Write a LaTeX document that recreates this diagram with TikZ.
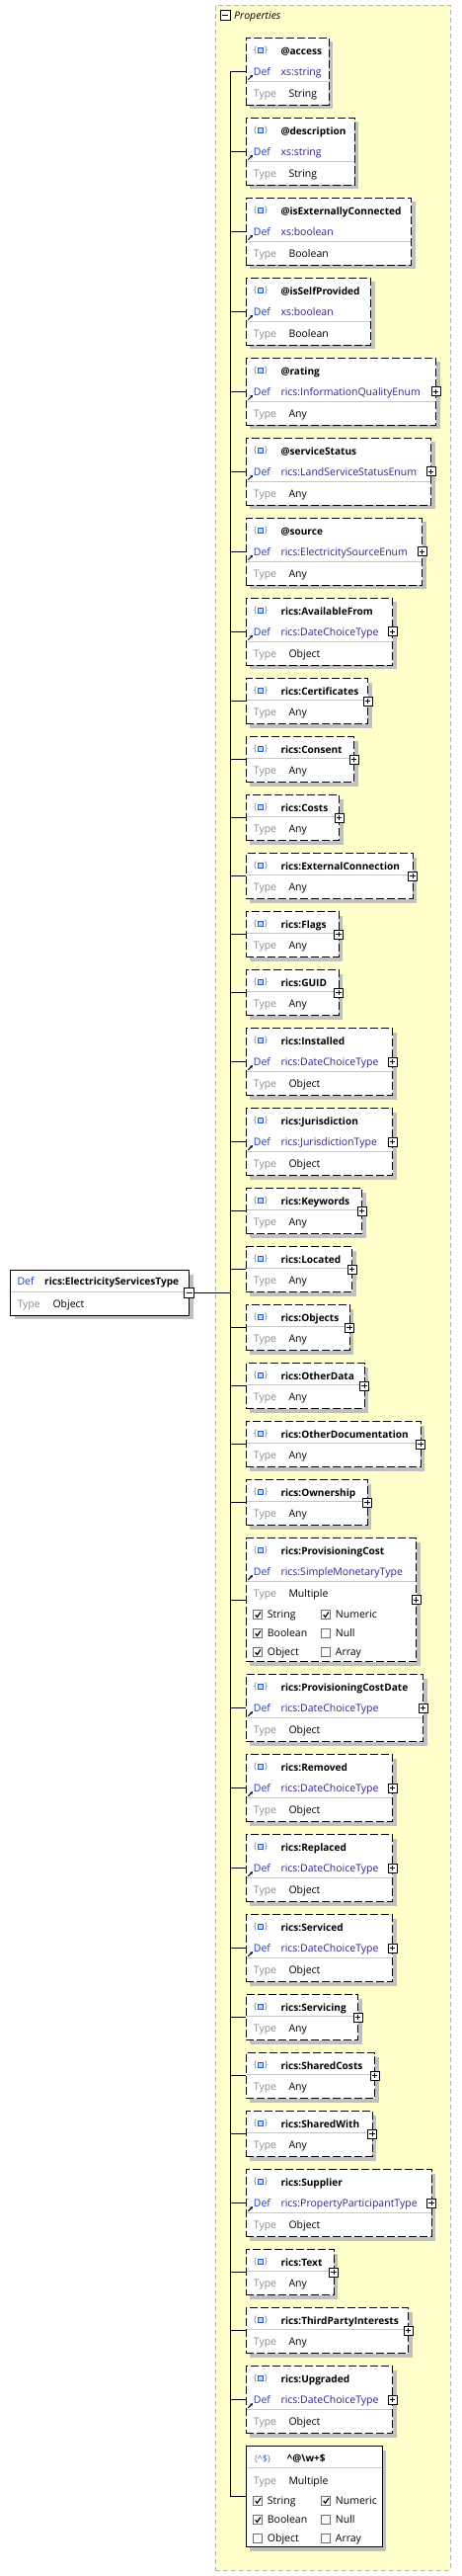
\documentclass[tikz,border=0pt]{standalone}
\usepackage{fontspec}
\setmainfont{Open Sans}
\usetikzlibrary{calc,arrows.meta}
\definecolor{bgyellow}{HTML}{FFFFCC}
\definecolor{shadowgray}{HTML}{C0C0C0}
\definecolor{sepgray}{HTML}{C8C8C8}
\definecolor{containerborder}{HTML}{B4B4B4}
\definecolor{defblue}{HTML}{1A3CC8}
\definecolor{defval}{HTML}{3C1E8C}
\definecolor{typegray}{HTML}{8C8C8C}
\definecolor{iconblue}{HTML}{2060E0}
\definecolor{iconfill}{HTML}{B8D4FF}
\definecolor{bracegray}{HTML}{808080}
\definecolor{cbgray}{HTML}{707070}
\newcommand{\fs}{\fontsize{10.5}{12}\selectfont}
\newcommand{\fb}{\fontsize{10.1}{12}\selectfont\bfseries}
\tikzset{
  elbox/.style={draw=black, line width=0.9pt, dash pattern=on 8pt off 3pt, fill=white, inner sep=0pt, outer sep=0pt, anchor=north west},
  solidbox/.style={draw=black, line width=0.9pt, fill=white, inner sep=0pt, outer sep=0pt, anchor=north west},
  sepline/.style={draw=sepgray, line width=0.8pt},
  lbl/.style={anchor=base west, inner sep=0pt, font=\fs},
  ttl/.style={anchor=base west, inner sep=0pt, font=\fb},
  bracefont/.style={inner sep=0pt, font=\fontsize{9}{10}\selectfont, text=bracegray},
  treeline/.style={draw=black, line width=1pt},
  plusbox/.style={draw=black, fill=white, minimum size=9pt, inner sep=0pt, line width=0.7pt,
    path picture={\draw[line width=0.7pt] ([xshift=1.8pt]path picture bounding box.west) -- ([xshift=-1.8pt]path picture bounding box.east);
                  \draw[line width=0.7pt] ([yshift=-1.8pt]path picture bounding box.north) -- ([yshift=1.8pt]path picture bounding box.south);}},
  minusbox/.style={draw=black, fill=white, minimum size=10pt, inner sep=0pt, line width=0.7pt,
    path picture={\draw[line width=0.7pt] ([xshift=1.8pt]path picture bounding box.west) -- ([xshift=-1.8pt]path picture bounding box.east);}},
}
\newcommand{\dropshadow}[3]{\fill[shadowgray] (253.3,{#1+4}) rectangle ({#2+4},{#1+#3+4});}
\newcommand{\elicon}[1]{%
  \node[bracefont] at (258.6,{#1+12.3}) {\{};
  \node[bracefont] at (269.6,{#1+12.3}) {\}};
  \draw[iconblue, fill=iconfill, line width=0.8pt] (261.5,{#1+9.8}) rectangle (266.7,{#1+14.6});}
\newcommand{\defrow}[2]{%
  \draw[-{Stealth[length=3pt,width=3.2pt]}, line width=0.9pt] (251.4,{#1+42.2}) -- (256,{#1+37.6});
  \node[lbl, text=defblue] at (256.7,{#1+37.7}) {Def};
  \node[lbl, text=defval] at (284.3,{#1+37.7}) {#2};}
\newcommand{\elthree}[6]{%
  \pgfmathsetmacro{\bw}{#3-249.3}
  \dropshadow{#2}{#3}{68}
  \node[elbox, minimum width=\bw pt, minimum height=68pt] (#1) at (249.3,#2) {};
  \draw[sepline] (249.8,{#2+44}) -- ({#3-0.5},{#2+44});
  \elicon{#2}
  \node[ttl] at (284.3,{#2+16.7}) {#4};
  \defrow{#2}{#5}
  \node[lbl, text=typegray] at (256.7,{#2+60.4}) {Type};
  \node[lbl] at (292.3,{#2+60.4}) {#6};}
\newcommand{\eltwo}[4]{%
  \pgfmathsetmacro{\bw}{#3-249.3}
  \dropshadow{#2}{#3}{46}
  \node[elbox, minimum width=\bw pt, minimum height=46pt] (#1) at (249.3,#2) {};
  \draw[sepline] (249.8,{#2+22}) -- ({#3-0.5},{#2+22});
  \elicon{#2}
  \node[ttl] at (284.3,{#2+16.7}) {#4};
  \node[lbl, text=typegray] at (256.7,{#2+38.2}) {Type};
  \node[lbl] at (292.3,{#2+38.2}) {Any};}
\newcommand{\plusicon}[1]{\node[plusbox] (#1-plus) at (#1.east) {};}
\newcommand{\linkto}[1]{\draw[treeline] (#1.west -| spine) -- (#1.west);}
\newcommand{\chkbox}[4]{%
  \draw[cbgray, fill=white, line width=0.8pt] ({#1},{#2-4.5}) rectangle ({#1+9},{#2+4.5});
  \ifnum#3=1 \draw[line width=1.2pt] ({#1+2},{#2+0.2}) -- ({#1+3.8},{#2+2.4}) -- ({#1+7.3},{#2-2.6});\fi
  \node[lbl] at ({#1+14},{#2+3.8}) {#4};}
\begin{document}
\begin{tikzpicture}[x=1pt, y=-1pt]
\useasboundingbox (0,0) rectangle (467,2607);
\fill[white] (0,0) rectangle (467,2607);
% container
\node[draw=containerborder, fill=bgyellow, dash pattern=on 5pt off 3pt, line width=0.8pt, anchor=north west, inner sep=0pt, outer sep=0pt, minimum width=237.7pt, minimum height=2596pt] (props) at (218.3,5) {};
\node[minusbox] (props-minus) at (228,15.5) {};
\node[lbl, font=\fs\itshape] (props-title) at (237,19.6) {Properties};
\coordinate (spine) at (233.3,0);

% root
\fill[shadowgray] (14.7,1289.7) rectangle (195.7,1335);
\node[solidbox, minimum width=181pt, minimum height=45.3pt] (root) at (10.7,1285.7) {};
\draw[sepline] (11.2,1307.3) -- (191.2,1307.3);
\node[lbl, text=defblue] at (17.3,1300.8) {Def};
\node[ttl] at (45,1300.8) {rics:ElectricityServicesType};
\node[lbl, text=typegray] at (17.3,1323.8) {Type};
\node[lbl] at (53.3,1323.8) {Object};
\node[minusbox] (root-minus) at (root.east) {};

% children
\elthree{aAccess}{38.3}{333.3}{@access}{xs:string}{String}
\elthree{aDescription}{119.3}{359.3}{@description}{xs:string}{String}
\elthree{aIsExt}{200.3}{416.7}{@isExternallyConnected}{xs:boolean}{Boolean}
\elthree{aIsSelf}{281.3}{375.7}{@isSelfProvided}{xs:boolean}{Boolean}
\elthree{aRating}{362.3}{441.7}{@rating}{rics:InformationQualityEnum}{Any}\plusicon{aRating}
\elthree{aServiceStatus}{443.3}{436.7}{@serviceStatus}{rics:LandServiceStatusEnum}{Any}\plusicon{aServiceStatus}
\elthree{aSource}{524.3}{427.7}{@source}{rics:ElectricitySourceEnum}{Any}\plusicon{aSource}
\elthree{eAvailableFrom}{605.3}{397.7}{rics:AvailableFrom}{rics:DateChoiceType}{Object}\plusicon{eAvailableFrom}
\eltwo{eCertificates}{686.5}{372.7}{rics:Certificates}\plusicon{eCertificates}
\eltwo{eConsent}{745.5}{358.5}{rics:Consent}\plusicon{eConsent}
\eltwo{eCosts}{804.5}{343.7}{rics:Costs}\plusicon{eCosts}
\eltwo{eExternalConnection}{863.5}{418}{rics:ExternalConnection}\plusicon{eExternalConnection}
\eltwo{eFlags}{922.5}{343}{rics:Flags}\plusicon{eFlags}
\eltwo{eGUID}{981.5}{343}{rics:GUID}\plusicon{eGUID}
\elthree{eInstalled}{1040.5}{397.7}{rics:Installed}{rics:DateChoiceType}{Object}\plusicon{eInstalled}
\elthree{eJurisdiction}{1121.5}{397.7}{rics:Jurisdiction}{rics:JurisdictionType}{Object}\plusicon{eJurisdiction}
\eltwo{eKeywords}{1202.5}{366.7}{rics:Keywords}\plusicon{eKeywords}
\eltwo{eLocated}{1261.5}{356.7}{rics:Located}\plusicon{eLocated}
\eltwo{eObjects}{1320.5}{354}{rics:Objects}\plusicon{eObjects}
\eltwo{eOtherData}{1379.5}{369}{rics:OtherData}\plusicon{eOtherData}
\eltwo{eOtherDocumentation}{1438.5}{426}{rics:OtherDocumentation}\plusicon{eOtherDocumentation}
\eltwo{eOwnership}{1497.5}{372}{rics:Ownership}\plusicon{eOwnership}

% ProvisioningCost (multiple types)
\dropshadow{1556.5}{421.7}{125}
\node[elbox, minimum width=172.4pt, minimum height=125pt] (eProvisioningCost) at (249.3,1556.5) {};
\draw[sepline] (249.8,1600.5) -- (421.2,1600.5);
\elicon{1556.5}
\node[ttl] at (284.3,1573.2) {rics:ProvisioningCost};
\defrow{1556.5}{rics:SimpleMonetaryType}
\node[lbl, text=typegray] at (256.7,1616.2) {Type};
\node[lbl] at (292.3,1616.2) {Multiple};
\chkbox{256.7}{1634.1}{1}{String}
\chkbox{325.7}{1634.1}{1}{Numeric}
\chkbox{256.7}{1653.1}{1}{Boolean}
\chkbox{325.7}{1653.1}{0}{Null}
\chkbox{256.7}{1672.1}{1}{Object}
\chkbox{325.7}{1672.1}{0}{Array}
\plusicon{eProvisioningCost}

\elthree{eProvisioningCostDate}{1694.5}{428.7}{rics:ProvisioningCostDate}{rics:DateChoiceType}{Object}\plusicon{eProvisioningCostDate}
\elthree{eRemoved}{1775.5}{397.7}{rics:Removed}{rics:DateChoiceType}{Object}\plusicon{eRemoved}
\elthree{eReplaced}{1856.5}{397.7}{rics:Replaced}{rics:DateChoiceType}{Object}\plusicon{eReplaced}
\elthree{eServiced}{1937.5}{397.7}{rics:Serviced}{rics:DateChoiceType}{Object}\plusicon{eServiced}
\eltwo{eServicing}{2018.5}{362.7}{rics:Servicing}\plusicon{eServicing}
\eltwo{eSharedCosts}{2077.5}{379.7}{rics:SharedCosts}\plusicon{eSharedCosts}
\eltwo{eSharedWith}{2136.5}{377}{rics:SharedWith}\plusicon{eSharedWith}
\elthree{eSupplier}{2195.5}{437}{rics:Supplier}{rics:PropertyParticipantType}{Object}\plusicon{eSupplier}
\eltwo{eText}{2276.5}{338}{rics:Text}\plusicon{eText}
\eltwo{eThirdPartyInterests}{2335.5}{413.7}{rics:ThirdPartyInterests}\plusicon{eThirdPartyInterests}
\elthree{eUpgraded}{2394.5}{397.7}{rics:Upgraded}{rics:DateChoiceType}{Object}\plusicon{eUpgraded}

% pattern properties
\dropshadow{2475.7}{387.3}{102}
\node[solidbox, minimum width=138pt, minimum height=102pt] (pPattern) at (249.3,2475.7) {};
\draw[sepline] (249.8,2497.3) -- (386.8,2497.3);
\node[lbl, font=\fontsize{9}{10}\selectfont] at (257.3,2491) {\textcolor{bracegray}{\{}\textcolor{iconblue}{\textasciicircum\$}\textcolor{bracegray}{\}}};
\node[ttl] at (290.7,2491.4) {\textasciicircum @\textbackslash w+\$};
\node[lbl, text=typegray] at (256.7,2514) {Type};
\node[lbl] at (292.3,2514) {Multiple};
\chkbox{256.7}{2530.7}{1}{String}
\chkbox{325.7}{2530.7}{1}{Numeric}
\chkbox{256.7}{2550}{1}{Boolean}
\chkbox{325.7}{2550}{0}{Null}
\chkbox{256.7}{2569}{0}{Object}
\chkbox{325.7}{2569}{0}{Array}

% connectors
\draw[treeline] (root-minus.east) -- (root-minus.east -| spine);
\draw[treeline] (aAccess.west -| spine) -- (pPattern.west -| spine);
\foreach \n in {aAccess,aDescription,aIsExt,aIsSelf,aRating,aServiceStatus,aSource,eAvailableFrom,eCertificates,eConsent,eCosts,eExternalConnection,eFlags,eGUID,eInstalled,eJurisdiction,eKeywords,eLocated,eObjects,eOtherData,eOtherDocumentation,eOwnership,eProvisioningCost,eProvisioningCostDate,eRemoved,eReplaced,eServiced,eServicing,eSharedCosts,eSharedWith,eSupplier,eText,eThirdPartyInterests,eUpgraded,pPattern}{\linkto{\n}}
\end{tikzpicture}
\end{document}
